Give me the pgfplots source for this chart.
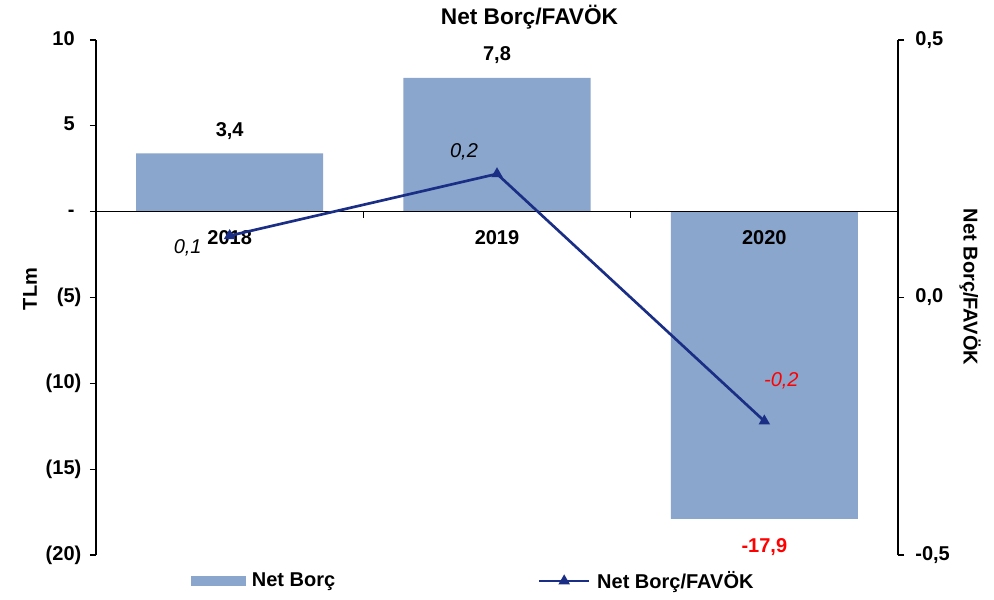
\documentclass[border=0pt]{standalone}
\usepackage{pgfplots}
\pgfplotsset{compat=1.18}
\usepackage{fontspec}
\setmainfont{Liberation Sans}
\definecolor{barblue}{HTML}{8AA6CC}
\definecolor{linenavy}{HTML}{1A2E85}
\definecolor{lblred}{HTML}{FF0000}

% Net Borc (TLm)
\pgfplotstableread{
x val
0 3.4
1 7.8
2 -17.9
}\netborc
% Net Borc/FAVOK
\pgfplotstableread{
x ratio
0 0.12
1 0.24
2 -0.24
}\ratio

\newcommand{\bfont}{\bfseries\fontsize{15}{18}\selectfont}
\newcommand{\ifont}{\mdseries\itshape\fontsize{15}{18}\selectfont}

\begin{document}
\begin{tikzpicture}
\pgfplotsset{
  common/.style={
    at={(0,0)}, anchor=south west,
    scale only axis,
    width=601.5pt, height=386.25pt,
    xmin=-0.5, xmax=2.5,
    xtick=\empty,
    clip=false,
    tick align=outside,
    major tick length=4.5pt,
    axis line style={black, line width=1pt},
    every tick/.style={black, line width=1pt},
    every tick label/.append style={font=\bfont},
  },
}
\begin{axis}[
  common,
  ymin=-20, ymax=10,
  axis x line*=middle, axis y line*=left,
  axis on top,
  ytick={-20,-15,-10,-5,0,5,10},
  yticklabels={(20),(15),(10),(5),{-\phantom{)}},{5\phantom{)}},{10\phantom{)}}},
  yticklabel style={xshift=-3pt},
]
\addplot[ybar, bar width=0.7, fill=barblue, draw=none] table[x=x, y=val] {\netborc};
\draw[line width=1pt] (axis cs:0.5,0) -- ++(0pt,-4.5pt);
\draw[line width=1pt] (axis cs:1.5,0) -- ++(0pt,-4.5pt);
\node[font=\bfont] at (axis cs:0,0) [yshift=-19.5pt] {2018};
\node[font=\bfont] at (axis cs:1,0) [yshift=-19.5pt] {2019};
\node[font=\bfont] at (axis cs:2,0) [yshift=-19.5pt] {2020};
\node[font=\bfont] at (axis cs:0,3.4) [yshift=17pt] {3,4};
\node[font=\bfont] at (axis cs:1,7.8) [yshift=17pt] {7,8};
\node[font=\bfont, text=lblred] at (axis cs:2,-17.9) [yshift=-21pt] {-17,9};
\node[font=\bfseries\fontsize{17}{20}\selectfont] at (rel axis cs:0.5405,1) [yshift=17.25pt] {Net Borç/FAVÖK};
\end{axis}

\begin{axis}[
  common,
  ymin=-0.5, ymax=0.5,
  axis x line=none, axis y line*=right,
  ytick={-0.5,0,0.5},
  yticklabels={{-0,5},{0,0},{0,5}},
  yticklabel style={xshift=5pt},
  legend columns=2,
  legend image code/.code={\draw[mark repeat=2, mark phase=2, #1] plot coordinates {(0pt,0pt) (18.75pt,0pt) (37.5pt,0pt)};},
  legend style={at={(axis description cs:0.1185,-0.0505)}, anchor=west,
    draw=none, fill=none, inner sep=0pt, font=\bfont,
    /tikz/every even column/.append style={column sep=150pt},
    /tikz/every odd column/.append style={column sep=3pt}},
]
\addlegendimage{legend image code/.code={\fill[barblue] (0pt,-3.4pt) rectangle (40pt,3.4pt);}}
\addlegendentry{Net Borç}
\addplot[linenavy, line width=2pt, mark=triangle*, mark size=3pt]
  table[x=x, y=ratio] {\ratio};
\addlegendentry{Net Borç/FAVÖK}
\node[font=\ifont] at (axis cs:0,0.12) [xshift=-31.5pt, yshift=-9pt] {0,1};
\node[font=\ifont] at (axis cs:1,0.24) [xshift=-24.75pt, yshift=16.5pt] {0,2};
\node[font=\ifont, text=lblred] at (axis cs:2,-0.24) [xshift=12.75pt, yshift=30pt] {-0,2};
\end{axis}

\node[font=\bfont, rotate=90] at (-49.5pt,199.5pt) {TLm};
\node[font=\bfont, rotate=-90] at (655.5pt,201pt) {Net Borç/FAVÖK};

\pgfresetboundingbox
\path[use as bounding box] (-72pt,-33pt) rectangle (673.5pt,416.25pt);
\end{tikzpicture}
\end{document}
